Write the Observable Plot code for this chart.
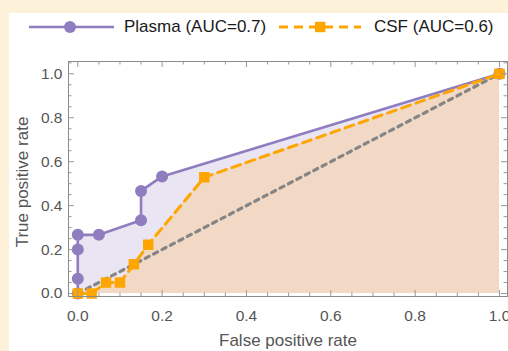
<!DOCTYPE html>
<html><head><meta charset="utf-8">
<script src="https://cdn.jsdelivr.net/npm/d3@7"></script>
<script src="https://cdn.jsdelivr.net/npm/@observablehq/plot@0.6"></script>
<style>
html,body{margin:0;padding:0;background:#fdf2d9;}
#wrap{position:relative;width:508px;height:351px;overflow:hidden;font-family:"Liberation Sans",Arial,Helvetica,sans-serif;}
#panel{position:absolute;left:9px;top:13px;right:0;bottom:0;background:#fff;}
#chart{position:absolute;left:0;top:0;}
.sym{position:absolute;top:17px;}
.lab{position:absolute;top:17px;font-size:17px;line-height:20px;color:#1a1a1a;white-space:nowrap;}
</style></head><body>
<div id="wrap"><div id="panel"></div><div id="chart"></div><div id="legend"></div></div>
<script>
// ---- data ----
const seriesNames = ["Plasma (AUC=0.7)", "CSF (AUC=0.6)"];
const plasmaFPR = [0, 0, 0, 0, 0.05, 0.15, 0.15, 0.2, 1];
const plasmaTPR = [0, 0.067, 0.2, 0.267, 0.267, 0.333, 0.467, 0.533, 1];
const csfFPR = [0, 0.033, 0.067, 0.1, 0.133, 0.167, 0.3, 1];
const csfTPR = [0, 0, 0.05, 0.05, 0.133, 0.222, 0.529, 1];
const chanceFPR = [0, 1];
const chanceTPR = [0, 1];
const majorTicks = [0, 0.2, 0.4, 0.6, 0.8, 1.0];
const xTitle = "False positive rate";
const yTitle = "True positive rate";

// ---- style ----
const purple = "#8f7dbf", orange = "#ffa500", grey = "#858585";
const lavFill = "#e9e5f2", peachFill = "#f2d9c6";
const W = 508, H = 351, mL = 68, mR = 1, mT = 61, mB = 55;
const pw = W - mL - mR, ph = H - mT - mB;
const xDom = [-0.022, 1.019], yDom = [-0.0136, 1.056];

const plasma = plasmaFPR.map((x, i) => ({x, y: plasmaTPR[i]}));
const csf = csfFPR.map((x, i) => ({x, y: csfTPR[i]}));
const chance = chanceFPR.map((x, i) => ({x, y: chanceTPR[i]}));
const minor = d3.range(-0.05, 1.1, 0.05).map(v => +v.toFixed(2))
  .filter(v => !majorTicks.some(m => Math.abs(m - v) < 1e-9));
const minorX = minor.filter(v => v >= xDom[0] && v <= xDom[1]);
const minorY = minor.filter(v => v >= yDom[0] && v <= yDom[1]);
const tickCol = "#999", majLen = 6, minLen = 3.5;

const chart = Plot.plot({
  width: W, height: H,
  marginLeft: mL, marginRight: mR, marginTop: mT, marginBottom: mB,
  style: {background: "transparent", fontFamily: '"Liberation Sans", Arial, sans-serif', fontSize: "15.5px", overflow: "visible"},
  x: {domain: xDom},
  y: {domain: yDom},
  marks: [
    Plot.areaY(plasma, {x: "x", y1: 0, y2: "y", fill: lavFill}),
    Plot.areaY(csf, {x: "x", y1: 0, y2: "y", fill: peachFill}),
    Plot.line(chance, {x: "x", y: "y", stroke: grey, strokeWidth: 3.2, strokeDasharray: "4.5,5"}),
    Plot.line(plasma, {x: "x", y: "y", stroke: purple, strokeWidth: 2.6}),
    Plot.dot(plasma, {x: "x", y: "y", r: 6, fill: purple}),
    Plot.line(csf, {x: "x", y: "y", stroke: orange, strokeWidth: 3, strokeDasharray: "9,6"}),
    Plot.dot(csf, {x: "x", y: "y", symbol: "square", r: 5.9, fill: orange}),
    // frame ticks (inward)
    Plot.ruleX(majorTicks, {x: d => d, stroke: tickCol, insetTop: ph - majLen}),
    Plot.ruleX(minorX, {x: d => d, stroke: tickCol, insetTop: ph - minLen}),
    Plot.ruleX(majorTicks, {x: d => d, stroke: tickCol, insetBottom: ph - majLen}),
    Plot.ruleX(minorX, {x: d => d, stroke: tickCol, insetBottom: ph - minLen}),
    Plot.ruleY(majorTicks, {y: d => d, stroke: tickCol, insetRight: pw - majLen}),
    Plot.ruleY(minorY, {y: d => d, stroke: tickCol, insetRight: pw - minLen}),
    Plot.ruleY(majorTicks, {y: d => d, stroke: tickCol, insetLeft: pw - majLen}),
    Plot.ruleY(minorY, {y: d => d, stroke: tickCol, insetLeft: pw - minLen}),
    Plot.frame({stroke: "#8c8c8c", strokeWidth: 1}),
    Plot.axisX({ticks: majorTicks, tickSize: 0, tickPadding: 13, tickFormat: d3.format(".1f"), label: null, fill: "#555"}),
    Plot.axisY({ticks: majorTicks, tickSize: 0, tickPadding: 6, tickFormat: d3.format(".1f"), label: null, fill: "#555"}),
    Plot.text([xTitle], {text: d => d, frameAnchor: "bottom", lineAnchor: "middle", textAnchor: "middle", dy: 44, fontSize: 17, fill: "#555"}),
    Plot.text([yTitle], {text: d => d, frameAnchor: "left", lineAnchor: "middle", textAnchor: "middle", dx: -46, dy: 3, rotate: -90, fontSize: 17, fill: "#555"})
  ]
});
document.getElementById("chart").appendChild(chart);

// ---- legend ----
const leg = document.getElementById("legend");
leg.innerHTML =
  `<svg class="sym" style="left:29px" width="86" height="20">
     <line x1="0" y1="10" x2="85" y2="10" stroke="${purple}" stroke-width="2.6"/>
     <circle cx="41" cy="10" r="6" fill="${purple}"/></svg>
   <div class="lab" style="left:124px">${seriesNames[0]}</div>
   <svg class="sym" style="left:279px" width="84" height="20">
     <line x1="0" y1="10" x2="82" y2="10" stroke="${orange}" stroke-width="3" stroke-dasharray="9,6"/>
     <rect x="36" y="4.8" width="10.4" height="10.4" fill="${orange}"/></svg>
   <div class="lab" style="left:374px">${seriesNames[1]}</div>`;
</script>
</body></html>
